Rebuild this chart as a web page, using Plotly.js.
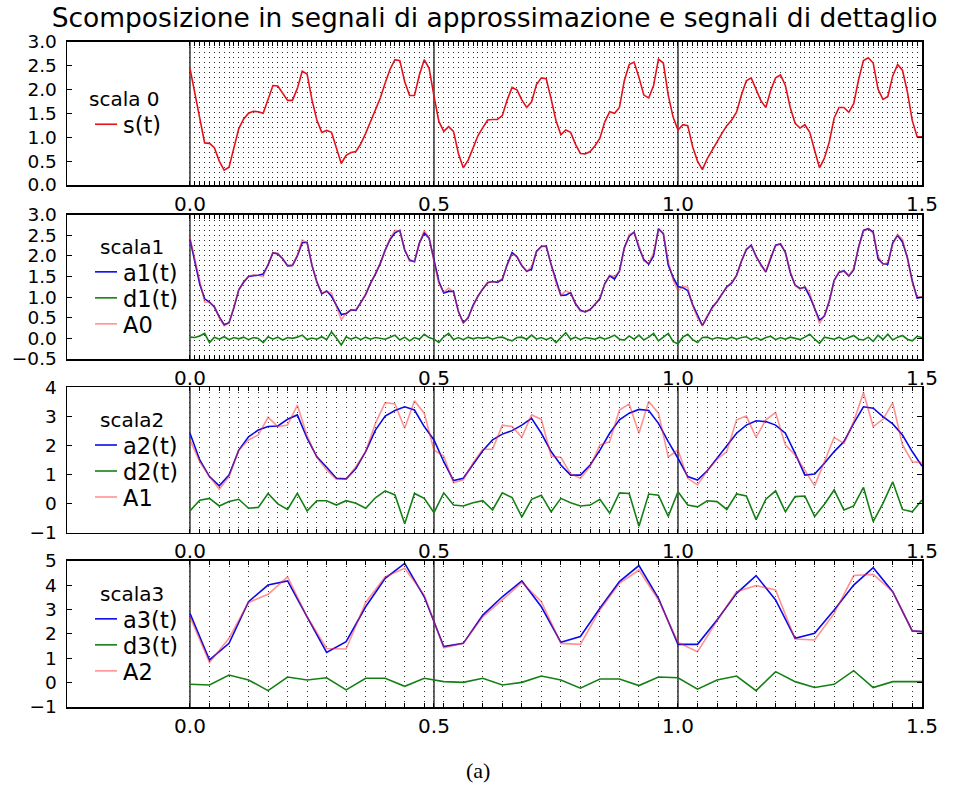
<!DOCTYPE html>
<html>
<head>
<meta charset="utf-8">
<script src="https://cdn.plot.ly/plotly-3.0.1.min.js"></script>
<style>
  html, body { margin: 0; padding: 0; background: #ffffff; }
  #chart { width: 956px; height: 790px; }
</style>
</head>
<body>
<div id="chart"></div>
<script>
// ---- signal and wavelet decomposition values ----
// scale 0: original signal s(t), sampled every 0.01
const s = [
  2.44, 1.90, 1.35, 0.88, 0.87, 0.78, 0.50, 0.31, 0.37, 0.75,
  1.18, 1.38, 1.50, 1.54, 1.53, 1.50, 1.80, 2.08, 2.07, 1.92,
  1.77, 1.77, 2.02, 2.38, 2.32, 1.78, 1.36, 1.10, 1.14, 1.10,
  0.77, 0.45, 0.62, 0.68, 0.70, 0.86, 1.08, 1.33, 1.57, 1.82,
  2.13, 2.42, 2.62, 2.60, 2.16, 1.87, 1.87, 2.30, 2.62, 2.44,
  1.86, 1.33, 1.12, 1.22, 1.12, 0.66, 0.36, 0.52, 0.77, 1.03,
  1.20, 1.36, 1.37, 1.37, 1.45, 1.78, 2.04, 1.99, 1.78, 1.62,
  1.74, 2.10, 2.24, 2.22, 1.80, 1.35, 1.05, 1.15, 1.10, 0.85,
  0.66, 0.65, 0.70, 0.82, 0.98, 1.32, 1.53, 1.50, 1.62, 2.18,
  2.52, 2.57, 2.25, 1.88, 1.82, 2.08, 2.63, 2.55, 1.88, 1.42,
  1.15, 1.26, 1.24, 0.80, 0.50, 0.32, 0.55, 0.74, 0.90, 1.08,
  1.24, 1.36, 1.52, 1.88, 2.18, 2.24, 2.00, 1.76, 1.62, 1.98,
  2.24, 2.30, 2.08, 1.62, 1.29, 1.19, 1.26, 1.10, 0.72, 0.36,
  0.56, 0.90, 1.40, 1.62, 1.62, 1.52, 1.70, 2.20, 2.60, 2.66,
  2.55, 2.00, 1.79, 1.85, 2.28, 2.52, 2.40, 1.95, 1.35, 1.01,
  1.01
];

// scale 1: approximation a1(t) and detail d1(t); A0 is the signal itself
const a1 = [
  2.40, 1.88, 1.32, 0.96, 0.88, 0.76, 0.52, 0.33, 0.38, 0.74,
  1.18, 1.36, 1.50, 1.52, 1.53, 1.56, 1.78, 2.08, 2.05, 1.93,
  1.76, 1.77, 2.00, 2.32, 2.33, 1.77, 1.37, 1.08, 1.15, 1.02,
  0.78, 0.58, 0.60, 0.69, 0.68, 0.88, 1.06, 1.34, 1.56, 1.82,
  2.14, 2.40, 2.56, 2.62, 2.14, 1.90, 1.86, 2.31, 2.56, 2.43,
  1.87, 1.38, 1.10, 1.14, 1.14, 0.65, 0.38, 0.50, 0.80, 1.02,
  1.20, 1.35, 1.38, 1.36, 1.43, 1.79, 2.08, 1.98, 1.76, 1.63,
  1.68, 2.11, 2.23, 2.24, 1.79, 1.42, 1.04, 1.05, 1.11, 0.84,
  0.68, 0.64, 0.70, 0.83, 0.96, 1.33, 1.52, 1.44, 1.63, 2.20,
  2.48, 2.58, 2.20, 1.91, 1.80, 2.00, 2.66, 2.54, 1.78, 1.48,
  1.26, 1.23, 1.16, 0.82, 0.56, 0.31, 0.53, 0.75, 0.89, 1.08,
  1.25, 1.34, 1.53, 1.87, 2.15, 2.26, 1.99, 1.79, 1.61, 1.94,
  2.26, 2.29, 2.09, 1.60, 1.29, 1.21, 1.24, 1.02, 0.73, 0.44,
  0.54, 0.90, 1.41, 1.60, 1.64, 1.51, 1.66, 2.21, 2.62, 2.66,
  2.58, 1.93, 1.81, 1.80, 2.32, 2.50, 2.34, 1.96, 1.40, 0.98,
  1.00
];
const d1 = [
   0.03,  0.02,  0.06,  0.12, -0.10,  0.03, -0.02,  0.04, -0.03,  0.02,
  -0.01,  0.03, -0.03,  0.02,  0.00, -0.10,  0.04, -0.02,  0.03, -0.04,
   0.02,  0.00,  0.03,  0.08, -0.03,  0.01, -0.02,  0.04, -0.03,  0.16,
   0.01, -0.16,  0.04, -0.02,  0.03, -0.03,  0.03, -0.02,  0.02,  0.00,
  -0.02,  0.03,  0.08, -0.04,  0.03, -0.06,  0.02, -0.02,  0.10,  0.02,
  -0.02, -0.10,  0.04,  0.12, -0.03,  0.02, -0.03,  0.03, -0.01,  0.02,
   0.00,  0.03, -0.02,  0.02,  0.03, -0.02, -0.06,  0.02,  0.03, -0.02,
   0.08, -0.02,  0.02, -0.03,  0.02, -0.10,  0.02,  0.14, -0.02,  0.03,
  -0.03,  0.02,  0.00, -0.02,  0.03, -0.02,  0.02,  0.08, -0.02, -0.04,
   0.06, -0.02,  0.08, -0.04,  0.03,  0.12, -0.06,  0.02,  0.12, -0.08,
  -0.13,  0.03,  0.10, -0.03, -0.10,  0.02,  0.03, -0.02,  0.02,  0.00,
  -0.02,  0.03, -0.02,  0.02,  0.04, -0.03,  0.02, -0.04,  0.02,  0.05,
  -0.03,  0.02, -0.02,  0.03,  0.00, -0.03,  0.03,  0.10, -0.02, -0.12,
   0.03,  0.00, -0.02,  0.03, -0.03,  0.02,  0.07, -0.02, -0.04,  0.03,
  -0.07,  0.08, -0.03,  0.10, -0.04,  0.03,  0.07, -0.02, -0.06,  0.05,
   0.02
];

// scale 2: sampled every 0.02
const a2 = [
  2.42, 1.50, 0.93, 0.61, 0.98, 1.84, 2.30, 2.53, 2.65, 2.67,
  2.90, 3.05, 2.25, 1.61, 1.25, 0.87, 0.85, 1.21, 1.79, 2.53,
  3.01, 3.20, 3.33, 3.22, 2.65, 2.19, 1.44, 0.79, 0.87, 1.36,
  1.82, 2.19, 2.39, 2.51, 2.70, 2.93, 2.42, 1.79, 1.33, 0.98,
  0.98, 1.33, 1.84, 2.42, 2.88, 3.11, 3.24, 3.20, 2.76, 2.13,
  1.56, 0.93, 0.81, 1.13, 1.56, 2.02, 2.42, 2.70, 2.85, 2.82,
  2.70, 2.42, 1.73, 0.98, 1.02, 1.39, 1.79, 2.13, 2.76, 3.33,
  3.28, 2.99, 2.74, 2.36, 1.79, 1.29
];
const d2 = [
  -0.25,  0.12,  0.18, -0.08,  0.07,  0.15, -0.16, -0.13,  0.35, -0.01,
  -0.20,  0.35, -0.25,  0.10,  0.10, -0.05,  0.10,  0.01, -0.16,  0.20,
   0.44,  0.30, -0.69,  0.35,  0.18, -0.31,  0.37, -0.05, -0.08,  0.03,
   0.10, -0.22,  0.37,  0.21, -0.46,  0.15,  0.29, -0.28,  0.18,  0.03,
  -0.08, -0.05,  0.15, -0.33,  0.37,  0.35, -0.78,  0.33,  0.29, -0.44,
   0.41, -0.05, -0.11,  0.10,  0.07, -0.20,  0.33,  0.26, -0.55,  0.15,
   0.44, -0.28,  0.24,  0.26, -0.44, -0.02,  0.47, -0.22, -0.08,  0.56,
  -0.62,  0.01,  0.75, -0.20, -0.28,  0.12
];
const A1 = [
  2.19, 1.44, 0.93, 0.50, 0.93, 1.84, 2.19, 2.36, 2.97, 2.65,
  2.70, 3.39, 2.33, 1.59, 1.16, 0.84, 0.84, 1.27, 1.79, 2.76,
  3.47, 3.43, 2.59, 3.54, 3.11, 1.84, 1.64, 0.72, 0.82, 1.40,
  1.87, 1.87, 2.70, 2.65, 2.28, 3.05, 2.90, 1.64, 1.59, 1.02,
  0.87, 1.27, 2.02, 2.13, 3.22, 3.43, 2.42, 3.51, 3.11, 1.61,
  1.84, 0.87, 0.64, 1.13, 1.52, 1.79, 2.88, 3.01, 2.28, 2.88,
  3.13, 2.02, 1.67, 1.13, 0.61, 1.44, 2.28, 2.07, 2.82, 3.82,
  2.65, 2.90, 3.47, 2.02, 1.44, 1.41
];

// scale 3: sampled every 0.04
const a3 = [
  2.84, 0.93, 1.61, 3.32, 4.00, 4.17, 2.70, 1.24, 1.68, 3.11,
  4.28, 4.89, 3.52, 1.48, 1.61, 2.77, 3.52, 4.17, 3.11, 1.65,
  1.89, 3.05, 4.14, 4.80, 3.46, 1.57, 1.57, 2.57, 3.66, 4.39,
  3.39, 1.82, 2.02, 2.98, 4.00, 4.71, 3.73, 2.12, 2.06
];
const d3 = [
  -0.07, -0.10,  0.31,  0.11, -0.33,  0.23,  0.11,  0.20, -0.30,  0.18,
   0.18, -0.15,  0.18,  0.04,  0.01,  0.18, -0.10,  0.01,  0.27,  0.11,
  -0.23,  0.15,  0.15, -0.12,  0.23,  0.20, -0.27,  0.11,  0.27, -0.33,
   0.45,  0.04, -0.20, -0.07,  0.49, -0.20,  0.04,  0.04,  0.04
];
const A2 = [
  2.70, 0.83, 1.82, 3.29, 3.62, 4.34, 2.70, 1.40, 1.38, 3.29,
  4.34, 4.69, 3.59, 1.43, 1.61, 2.70, 3.39, 4.11, 3.32, 1.61,
  1.57, 2.98, 4.07, 4.62, 3.39, 1.65, 1.27, 2.53, 3.73, 3.98,
  3.80, 1.79, 1.75, 2.84, 4.39, 4.44, 3.73, 2.12, 2.06
];

// sampling steps of each scale
const step0 = 0.01, step1 = 0.01, step2 = 0.02, step3 = 0.04;

// axis labels
const xLabelVals = [0, 0.5, 1.0, 1.5];
const xLabelText = ['0.0', '0.5', '1.0', '1.5'];
const periodMarks = [0, 0.5, 1.0];
const yTicks = [
  [0, 0.5, 1.0, 1.5, 2.0, 2.5, 3.0],
  [-0.5, 0, 0.5, 1.0, 1.5, 2.0, 2.5, 3.0],
  [-1, 0, 1, 2, 3, 4],
  [-1, 0, 1, 2, 3, 4, 5]
];
const yTickText = [
  ['0.0', '0.5', '1.0', '1.5', '2.0', '2.5', '3.0'],
  ['\u22120.5', '0.0', '0.5', '1.0', '1.5', '2.0', '2.5', '3.0'],
  ['\u22121', '0', '1', '2', '3', '4'],
  ['\u22121', '0', '1', '2', '3', '4', '5']
];

const legendTitles = ['scala 0', 'scala1', 'scala2', 'scala3'];
const legendNames = [
  ['s(t)'],
  ['a1(t)', 'd1(t)', 'A0'],
  ['a2(t)', 'd2(t)', 'A1'],
  ['a3(t)', 'd3(t)', 'A2']
];

// ---- presentation ----
const W = 956, H = 790;
const FONT = 'DejaVu Sans, Bitstream Vera Sans, sans-serif';
const RED = 'rgb(228,18,28)';
const BLUE = 'rgb(10,10,235)';
const GREEN = 'rgb(20,128,20)';
const PINK = 'rgba(255,40,40,0.5)';
const LW = 1.6;

const plotLeft = 67, plotRight = 922;
const panelTop = [41.5, 214.7, 387.3, 560.7];
const panelBottom = [185, 359, 532.7, 707];
const yRanges = [[0, 3], [-0.5, 3], [-1, 4], [-1, 5]];
const xRange = [-0.252, 1.5];

function sampleTimes(step, n) {
  const t = [];
  for (let k = 0; k < n; k++) t.push(Math.round(k * step * 1e6) / 1e6);
  return t;
}
const t0 = sampleTimes(step0, s.length);
const t1 = sampleTimes(step1, a1.length);
const t2 = sampleTimes(step2, a2.length);
const t3 = sampleTimes(step3, a3.length);

const series = [
  [{ x: t0, y: s, color: RED }],
  [{ x: t1, y: a1, color: BLUE }, { x: t1, y: d1, color: GREEN }, { x: t0, y: s, color: PINK }],
  [{ x: t2, y: a2, color: BLUE }, { x: t2, y: d2, color: GREEN }, { x: t2, y: A1, color: PINK }],
  [{ x: t3, y: a3, color: BLUE }, { x: t3, y: d3, color: GREEN }, { x: t3, y: A2, color: PINK }]
];

// tick positions: every sample instant inside the window, plus the labelled ones
function tickPositions(t) {
  const inWin = t.filter(v => v <= 1.5 + 1e-9);
  xLabelVals.forEach(v => {
    if (!inWin.some(u => Math.abs(u - v) < 1e-9)) inWin.push(v);
  });
  return inWin.sort((a, b) => a - b);
}
const gridTimes = [t0, t1, t2, t3].map(tickPositions);

const traces = [];
const layout = {
  width: W, height: H,
  margin: { l: 0, r: 0, t: 0, b: 0 },
  paper_bgcolor: '#ffffff',
  plot_bgcolor: '#ffffff',
  showlegend: false,
  font: { family: FONT, color: '#000000' },
  title: {
    text: 'Scomposizione in segnali di approssimazione e segnali di dettaglio',
    font: { family: FONT, size: 26.5, color: '#000000' },
    x: (plotLeft + plotRight) / 2 / W, xanchor: 'center', xref: 'paper',
    y: 1 - 18 / H, yanchor: 'middle', yref: 'container'
  },
  shapes: [],
  annotations: []
};

series.forEach((group, p) => {
  const sfx = p === 0 ? '' : String(p + 1);
  group.forEach((g, i) => {
    traces.push({
      type: 'scatter', mode: 'lines',
      x: g.x, y: g.y,
      xaxis: 'x' + sfx, yaxis: 'y' + sfx,
      name: legendNames[p][i],
      line: { color: g.color, width: LW },
      hoverinfo: 'skip'
    });
  });

  const grid = gridTimes[p];
  const tickText = grid.map(v => {
    const j = xLabelVals.findIndex(l => Math.abs(l - v) < 1e-9);
    return j >= 0 ? xLabelText[j] : '';
  });

  layout['xaxis' + sfx] = {
    domain: [plotLeft / W, plotRight / W],
    range: xRange,
    anchor: 'y' + sfx,
    tickmode: 'array', tickvals: grid, ticktext: tickText,
    showgrid: true, gridcolor: '#2a2a2a', gridwidth: 1, griddash: '1px,4px',
    ticks: 'inside', ticklen: 4, tickwidth: 1, tickcolor: '#000000',
    showline: true, linecolor: '#000000', linewidth: 1.5, mirror: 'ticks',
    zeroline: false,
    tickfont: { family: FONT, size: 20, color: '#000000' },
    ticklabelstandoff: 0
  };
  layout['yaxis' + sfx] = {
    domain: [1 - panelBottom[p] / H, 1 - panelTop[p] / H],
    range: yRanges[p],
    anchor: 'x' + sfx,
    tickmode: 'array', tickvals: yTicks[p], ticktext: yTickText[p],
    showgrid: false, zeroline: false,
    ticks: 'inside', ticklen: 5, tickwidth: 1, tickcolor: '#000000',
    showline: true, linecolor: '#000000', linewidth: 1.5, mirror: 'ticks',
    tickfont: { family: FONT, size: 18.5, color: '#000000' },
    ticklabelstandoff: 5
  };

  // solid markers at each period boundary
  periodMarks.forEach(v => {
    layout.shapes.push({
      type: 'line', layer: 'below',
      xref: 'x' + sfx, yref: 'y' + sfx + ' domain',
      x0: v, x1: v, y0: 0, y1: 1,
      line: { color: '#000000', width: 1.2 }
    });
  });

  // legend block, centred vertically in the panel
  const names = legendNames[p];
  const rowH = 26, titleH = 22;
  const blockH = titleH + names.length * rowH;
  const mid = (panelTop[p] + panelBottom[p]) / 2;
  const top = mid - blockH / 2;
  const lineX0 = 95, lineX1 = 117, textX = 121;
  const titleCx = p === 0 ? 124 : 132;
  layout.annotations.push({
    xref: 'paper', yref: 'paper',
    x: titleCx / W, y: 1 - (top + titleH / 2 - 1) / H,
    xanchor: 'center', yanchor: 'middle',
    text: legendTitles[p], showarrow: false,
    font: { family: FONT, size: 20, color: '#000000' }
  });
  names.forEach((nm, i) => {
    const cy = top + titleH + rowH * (i + 0.5);
    layout.shapes.push({
      type: 'line', xref: 'paper', yref: 'paper',
      x0: lineX0 / W, x1: lineX1 / W, y0: 1 - cy / H, y1: 1 - cy / H,
      line: { color: group[i].color, width: LW }
    });
    layout.annotations.push({
      xref: 'paper', yref: 'paper',
      x: textX / W, y: 1 - (cy + 1) / H,
      xanchor: 'left', yanchor: 'middle',
      text: nm, showarrow: false,
      font: { family: FONT, size: 22.5, color: '#000000' }
    });
  });
});

// sub-figure caption
layout.annotations.push({
  xref: 'paper', yref: 'paper',
  x: 478 / W, y: 1 - 770 / H,
  xanchor: 'center', yanchor: 'middle',
  text: '(a)', showarrow: false,
  font: { family: 'Liberation Serif, DejaVu Serif, serif', size: 22, color: '#000000' }
});

Plotly.newPlot('chart', traces, layout, { staticPlot: true, displayModeBar: false });
</script>
</body>
</html>
